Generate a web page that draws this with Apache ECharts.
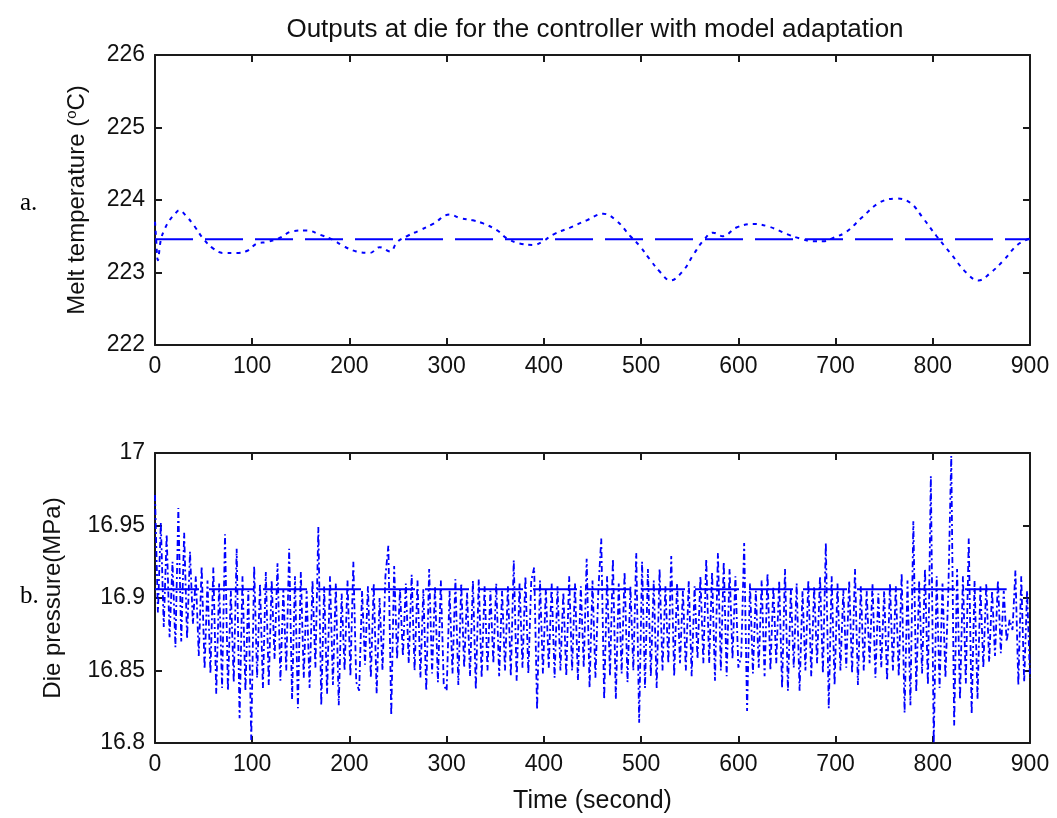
<!DOCTYPE html>
<html>
<head>
<meta charset="utf-8">
<script src="https://cdn.jsdelivr.net/npm/echarts@6/dist/echarts.min.js"></script>
<style>
html,body{margin:0;padding:0;background:#fff;}
#c{width:1057px;height:818px;}
</style>
</head>
<body>
<div id="c"></div>
<script>
// ---- Data ----
var xTicks = [0, 100, 200, 300, 400, 500, 600, 700, 800, 900];
var tempSetpoint = 223.46;
var tempTimes = [0, 1, 3, 6, 10, 15, 20, 25, 32, 40, 50, 60, 70, 84, 95, 105, 115, 127, 142, 156, 170, 183, 193, 207, 221, 231, 242, 249, 259, 272, 286, 303, 314, 327, 337, 352, 362, 375, 389, 399, 409, 427, 444, 461, 475, 489, 499, 509, 520, 530, 543, 554, 564, 574, 584, 598, 615, 632, 650, 663, 677, 687, 698, 711, 728, 746, 763, 777, 790, 804, 818, 835, 847, 859, 873, 887, 900];
var tempValues = [223.70, 223.50, 223.17, 223.45, 223.60, 223.72, 223.80, 223.86, 223.78, 223.65, 223.46, 223.33, 223.27, 223.27, 223.30, 223.40, 223.42, 223.47, 223.57, 223.58, 223.52, 223.45, 223.37, 223.29, 223.27, 223.35, 223.29, 223.42, 223.50, 223.58, 223.67, 223.80, 223.75, 223.72, 223.68, 223.58, 223.47, 223.40, 223.38, 223.43, 223.52, 223.62, 223.72, 223.81, 223.71, 223.50, 223.36, 223.18, 223.00, 222.89, 223.02, 223.25, 223.44, 223.55, 223.50, 223.62, 223.67, 223.63, 223.53, 223.47, 223.43, 223.43, 223.48, 223.56, 223.77, 223.97, 224.02, 223.96, 223.75, 223.50, 223.27, 222.99, 222.89, 222.99, 223.17, 223.38, 223.47];

var pressSetpoint = 16.906;
var pressSetpointEnd = 876;
var pressStep = 3; // seconds between samples
var pressValues = [
16.971, 16.890, 16.952, 16.880, 16.944, 16.873, 16.925, 16.866, 16.962, 16.870,
16.945, 16.872, 16.932, 16.882, 16.915, 16.860, 16.922, 16.851, 16.912, 16.848,
16.921, 16.834, 16.910, 16.838, 16.944, 16.836, 16.905, 16.842, 16.934, 16.817,
16.915, 16.836, 16.905, 16.802, 16.922, 16.845, 16.910, 16.838, 16.918, 16.840,
16.912, 16.858, 16.924, 16.843, 16.906, 16.850, 16.934, 16.830, 16.915, 16.824,
16.918, 16.845, 16.905, 16.838, 16.912, 16.852, 16.949, 16.826, 16.908, 16.834,
16.915, 16.840, 16.910, 16.826, 16.903, 16.850, 16.912, 16.846, 16.925, 16.842,
16.836, 16.905, 16.854, 16.908, 16.845, 16.910, 16.834, 16.900, 16.850, 16.915,
16.936, 16.819, 16.922, 16.858, 16.906, 16.860, 16.910, 16.855, 16.916, 16.850,
16.912, 16.845, 16.906, 16.836, 16.920, 16.848, 16.908, 16.842, 16.912, 16.840,
16.836, 16.905, 16.848, 16.913, 16.840, 16.910, 16.852, 16.904, 16.846, 16.912,
16.837, 16.913, 16.845, 16.908, 16.850, 16.905, 16.855, 16.910, 16.846, 16.905,
16.850, 16.908, 16.846, 16.926, 16.843, 16.910, 16.852, 16.915, 16.848, 16.912,
16.921, 16.823, 16.912, 16.848, 16.906, 16.852, 16.910, 16.845, 16.908, 16.850,
16.904, 16.846, 16.915, 16.850, 16.910, 16.843, 16.908, 16.852, 16.927, 16.838,
16.912, 16.845, 16.905, 16.941, 16.830, 16.915, 16.846, 16.927, 16.830, 16.910,
16.848, 16.918, 16.842, 16.908, 16.850, 16.931, 16.814, 16.925, 16.838, 16.920,
16.846, 16.912, 16.838, 16.920, 16.850, 16.908, 16.855, 16.929, 16.846, 16.910,
16.855, 16.905, 16.850, 16.912, 16.846, 16.908, 16.858, 16.915, 16.855, 16.927,
16.855, 16.918, 16.843, 16.931, 16.850, 16.925, 16.846, 16.920, 16.858, 16.915,
16.852, 16.860, 16.938, 16.822, 16.910, 16.848, 16.905, 16.852, 16.912, 16.846,
16.917, 16.850, 16.908, 16.855, 16.912, 16.838, 16.920, 16.836, 16.906, 16.852,
16.910, 16.836, 16.905, 16.850, 16.912, 16.846, 16.908, 16.855, 16.915, 16.848,
16.938, 16.824, 16.915, 16.840, 16.910, 16.850, 16.906, 16.852, 16.912, 16.848,
16.920, 16.840, 16.908, 16.850, 16.905, 16.855, 16.910, 16.845, 16.903, 16.852,
16.905, 16.843, 16.910, 16.850, 16.908, 16.846, 16.917, 16.821, 16.912, 16.826,
16.953, 16.835, 16.912, 16.848, 16.920, 16.840, 16.984, 16.800, 16.915, 16.838,
16.910, 16.845, 16.905, 16.998, 16.812, 16.920, 16.830, 16.915, 16.841, 16.941,
16.820, 16.912, 16.830, 16.908, 16.852, 16.910, 16.856, 16.905, 16.860, 16.912,
16.862, 16.905, 16.870, 16.885, 16.878, 16.919, 16.840, 16.915, 16.842, 16.905,
16.845
];

// ---- Build series data ----
var tempData = tempTimes.map(function (t, i) { return [t, tempValues[i]]; });
var pressData = pressValues.map(function (v, i) { return [i * pressStep, v]; });

var BLUE = '#0000ff';
var AX = '#1a1a1a';
var FONT = 'Liberation Sans';

function xAx(grid, pos, showLabels, name) {
  return {
    type: 'value', gridIndex: grid, position: pos,
    min: 0, max: 900, interval: 100,
    axisLine: { show: true, onZero: false, lineStyle: { color: AX, width: 2 } },
    axisTick: { show: true, inside: true, length: 7, lineStyle: { color: AX, width: 2 } },
    axisLabel: { show: showLabels, color: '#111', fontSize: 23, fontFamily: FONT, margin: 10 },
    splitLine: { show: false },
    name: name || '', nameLocation: 'middle', nameGap: 46,
    nameTextStyle: { color: '#111', fontSize: 25, fontFamily: FONT }
  };
}
function yAx(grid, pos, showLabels, min, max, interval, name, gap, fmt, rich) {
  return {
    type: 'value', gridIndex: grid, position: pos,
    min: min, max: max, interval: interval,
    axisLine: { show: true, onZero: false, lineStyle: { color: AX, width: 2 } },
    axisTick: { show: true, inside: true, length: 7, lineStyle: { color: AX, width: 2 } },
    axisLabel: { show: showLabels, color: '#111', fontSize: 23, fontFamily: FONT, margin: 10, formatter: fmt },
    splitLine: { show: false },
    name: name || '', nameLocation: 'middle', nameGap: gap || 0,
    nameTextStyle: { color: '#111', fontSize: 24, fontFamily: FONT, rich: rich }
  };
}

var chart = echarts.init(document.getElementById('c'));
chart.setOption({
  backgroundColor: '#ffffff',
  animation: false,
  title: {
    text: 'Outputs at die for the controller with model adaptation',
    left: 590, top: 12, textAlign: 'center',
    textStyle: { fontFamily: FONT, fontWeight: 'normal', fontSize: 26, color: '#111' }
  },
  grid: [
    { left: 155, right: 27, top: 55, height: 290 },
    { left: 155, right: 27, top: 453, height: 290 }
  ],
  xAxis: [
    xAx(0, 'bottom', true),
    xAx(0, 'top', false),
    xAx(1, 'bottom', true, 'Time (second)'),
    xAx(1, 'top', false)
  ],
  yAxis: [
    yAx(0, 'left', true, 222, 226, 1, 'Melt temperature ({sup|o}C)', 64, function (v) { return String(v); },
        { sup: { fontSize: 15, fontFamily: FONT, color: '#111', padding: [0, 0, 12, 0] } }),
    yAx(0, 'right', false, 222, 226, 1),
    yAx(1, 'left', true, 16.8, 17, 0.05, 'Die pressure(MPa)', 90, function (v) { return String(+v.toFixed(2)); }),
    yAx(1, 'right', false, 16.8, 17, 0.05)
  ],
  graphic: [
    { type: 'text', left: 20, top: 191, style: { text: 'a.', font: '25px "Liberation Serif"', fill: '#000' } },
    { type: 'text', left: 20, top: 584, style: { text: 'b.', font: '25px "Liberation Serif"', fill: '#000' } }
  ],
  series: [
    {
      type: 'line', xAxisIndex: 0, yAxisIndex: 0, symbol: 'none',
      data: [[0, tempSetpoint], [900, tempSetpoint]],
      lineStyle: { color: BLUE, width: 2, type: [38, 12] }
    },
    {
      type: 'line', xAxisIndex: 0, yAxisIndex: 0, symbol: 'none', smooth: 0.4,
      data: tempData,
      lineStyle: { color: BLUE, width: 2, type: [4, 5] }
    },
    {
      type: 'line', xAxisIndex: 2, yAxisIndex: 2, symbol: 'none',
      data: [[0, pressSetpoint], [pressSetpointEnd, pressSetpoint]],
      lineStyle: { color: BLUE, width: 2, type: [44, 10] }
    },
    {
      type: 'line', xAxisIndex: 2, yAxisIndex: 2, symbol: 'none', clip: true,
      data: pressData,
      lineStyle: { color: BLUE, width: 1.8, type: [6, 3, 2, 3] }
    }
  ]
});
</script>
</body>
</html>
